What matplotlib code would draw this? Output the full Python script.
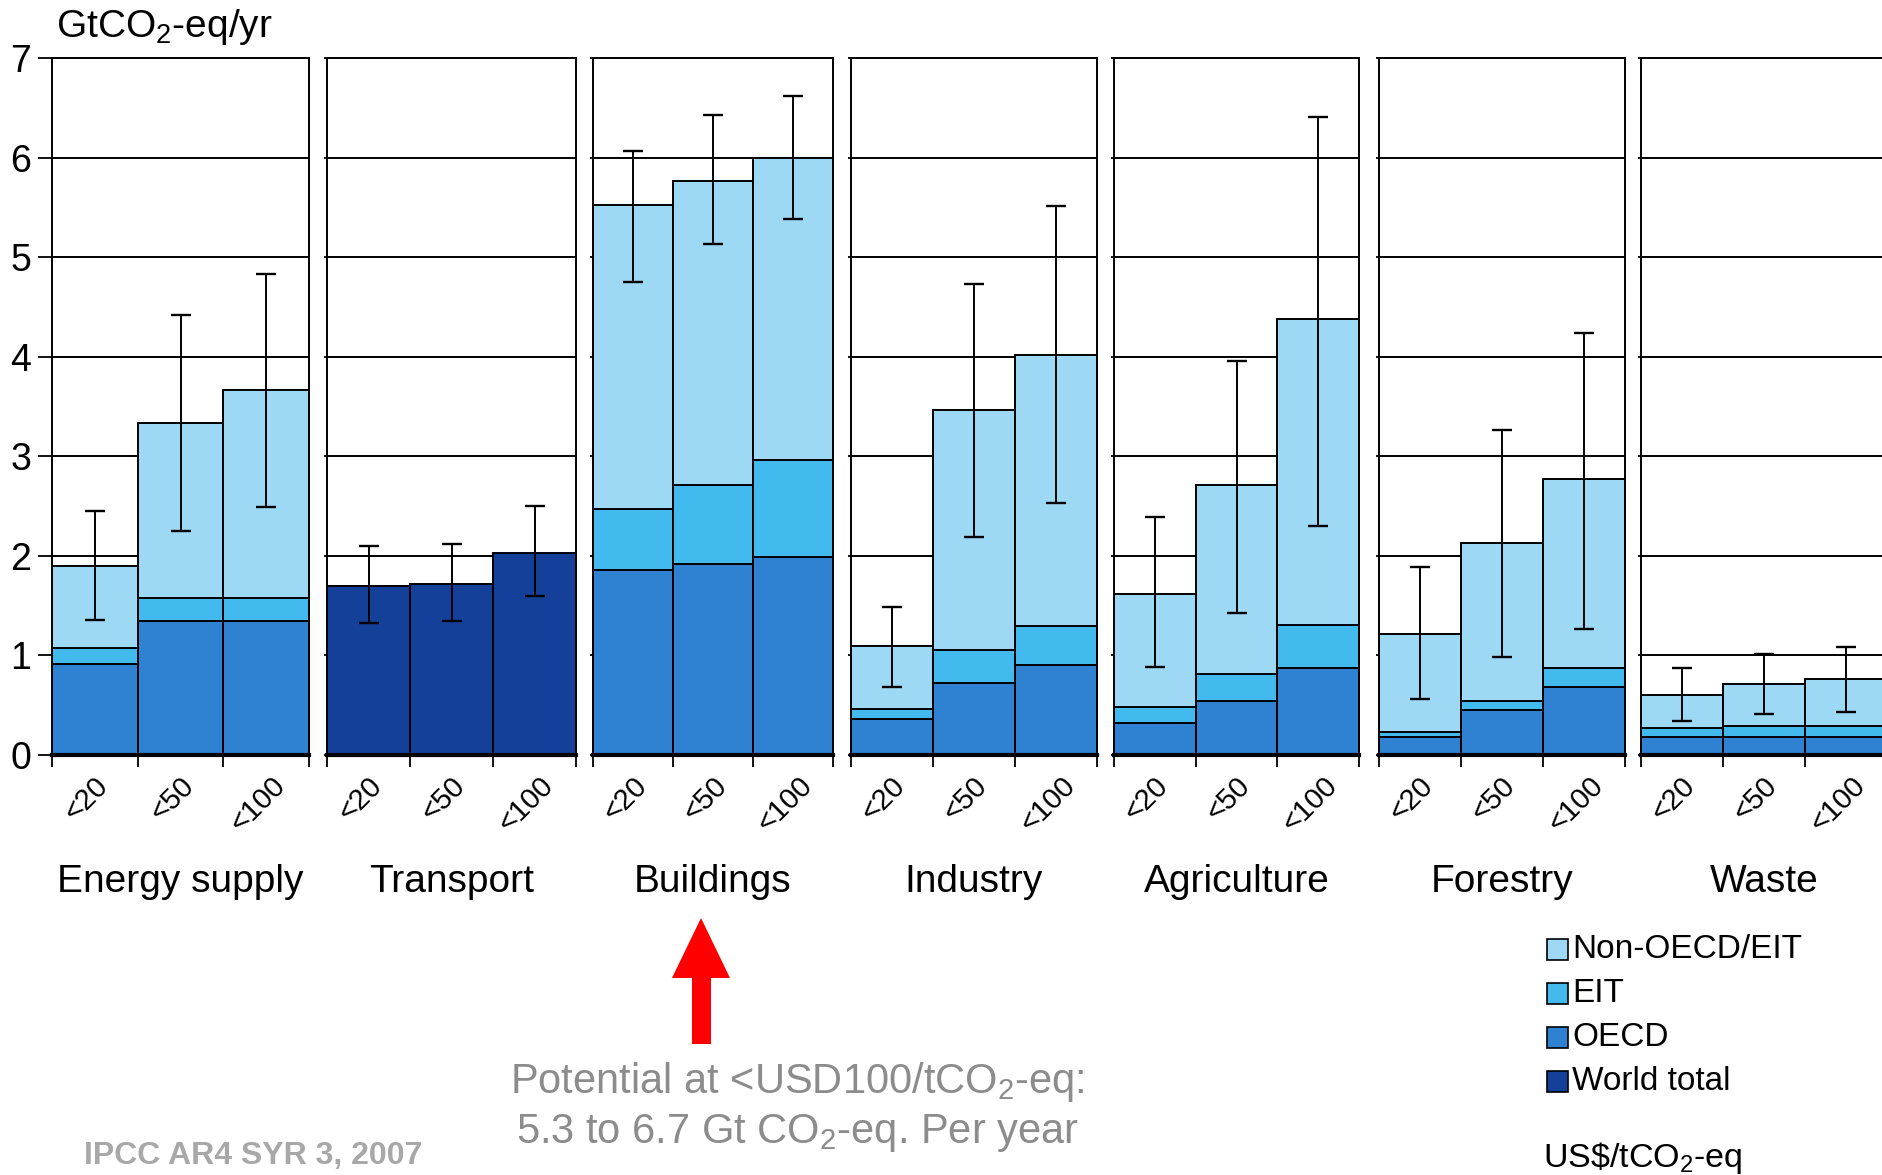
import matplotlib
matplotlib.use("Agg")
import matplotlib.pyplot as plt
from matplotlib.patches import Polygon, Rectangle
from matplotlib.transforms import blended_transform_factory

plt.rcParams["font.family"] = ["Liberation Sans", "DejaVu Sans"]
plt.rcParams["mathtext.fontset"] = "custom"
plt.rcParams["mathtext.rm"] = "Liberation Sans"
plt.rcParams["mathtext.it"] = "Liberation Sans:italic"
plt.rcParams["mathtext.bf"] = "Liberation Sans:bold"

# --- data: economic mitigation potential by sector, GtCO2-eq/yr ---
sectors = ["Energy supply", "Transport", "Buildings", "Industry",
           "Agriculture", "Forestry", "Waste"]
price_bins = ["<20", "<50", "<100"]

# regional split (None = only a world total is available)
oecd = [[0.91, 1.35, 1.35], None, [1.86, 1.92, 1.99], [0.36, 0.72, 0.90],
        [0.32, 0.54, 0.87], [0.18, 0.45, 0.68], [0.18, 0.18, 0.18]]
eit = [[0.16, 0.23, 0.23], None, [0.61, 0.79, 0.97], [0.10, 0.33, 0.40],
       [0.16, 0.27, 0.44], [0.05, 0.09, 0.19], [0.09, 0.11, 0.11]]
non_oecd = [[0.83, 1.75, 2.09], None, [3.05, 3.05, 3.04], [0.63, 2.41, 2.72],
            [1.14, 1.90, 3.07], [0.99, 1.59, 1.90], [0.33, 0.42, 0.47]]
world_total = [None, [1.70, 1.72, 2.03], None, None, None, None, None]

# uncertainty ranges (low, high)
range_low = [[1.36, 2.25, 2.49], [1.33, 1.35, 1.60], [4.75, 5.13, 5.38],
             [0.68, 2.19, 2.53], [0.88, 1.43, 2.30], [0.56, 0.98, 1.27],
             [0.34, 0.41, 0.43]]
range_high = [[2.45, 4.42, 4.83], [2.10, 2.12, 2.50], [6.07, 6.43, 6.62],
              [1.49, 4.73, 5.51], [2.39, 3.96, 6.41], [1.89, 3.26, 4.24],
              [0.87, 1.01, 1.08]]

legend_labels = ["Non-OECD/EIT", "EIT", "OECD", "World total"]

# --- styling ---
C_NON = "#9DD9F5"
C_EIT = "#43BAEE"
C_OECD = "#2E82D1"
C_WORLD = "#15409A"
W, H = 1882, 1175

# panel edges in pixels
panel_left = [52, 327, 593, 851, 1114, 1379, 1641]
panel_right = [309, 576, 833, 1097, 1359, 1625, 1887]
y_top_px, y_bot_px = 58, 755

fig = plt.figure(figsize=(W / 100, H / 100), dpi=100)

for i, name in enumerate(sectors):
    l, r = panel_left[i], panel_right[i]
    ax = fig.add_axes([l / W, 1 - y_bot_px / H, (r - l) / W, (y_bot_px - y_top_px) / H])
    ax.set_xlim(0, 3)
    ax.set_ylim(0, 7)
    ax.set_axisbelow(True)
    ax.yaxis.grid(True, color="black", linewidth=1.4)
    x = range(3)
    kw = dict(width=1, align="edge", edgecolor="black", linewidth=1.4)
    if world_total[i] is not None:
        ax.bar(x, world_total[i], color=C_WORLD, **kw)
    else:
        b1 = oecd[i]
        b2 = [a + b for a, b in zip(b1, eit[i])]
        ax.bar(x, oecd[i], color=C_OECD, **kw)
        ax.bar(x, eit[i], bottom=b1, color=C_EIT, **kw)
        ax.bar(x, non_oecd[i], bottom=b2, color=C_NON, **kw)
    centers = [k + 0.5 for k in x]
    mid = [(lo + hi) / 2 for lo, hi in zip(range_low[i], range_high[i])]
    err = [[m - lo for m, lo in zip(mid, range_low[i])],
           [hi - m for m, hi in zip(mid, range_high[i])]]
    ax.errorbar(centers, mid, yerr=err, fmt="none", ecolor="black",
                elinewidth=1.4, capsize=7, capthick=1.7, zorder=5)

    ax.set_yticks(range(8))
    ax.set_xticks([0, 1, 2, 3])
    ax.set_xticklabels([])
    ax.tick_params(axis="x", direction="out", length=8.5, width=1.3)
    if i == 0:
        ax.tick_params(axis="y", direction="out", length=10, width=1.3,
                       labelsize=27, pad=5)
    else:
        ax.tick_params(axis="y", direction="out", length=2.5, width=1.3,
                       labelleft=False)
    for s in ax.spines.values():
        s.set_linewidth(1.4)
    ax.spines["bottom"].set_linewidth(3)

    trans = blended_transform_factory(ax.transData, ax.transAxes)
    for c, lab in zip(centers, price_bins):
        ax.text(c - 0.1, -0.024, lab, rotation=45, ha="center", va="top",
                fontsize=21, transform=trans)
    ax.text(0.5, -0.182, name, ha="center", va="center", fontsize=28,
            transform=ax.transAxes)

# overlay in pixel coordinates for annotations and legend
ov = fig.add_axes([0, 0, 1, 1], zorder=-1)
ov.set_xlim(0, W)
ov.set_ylim(H, 0)
ov.axis("off")
ov.patch.set_alpha(0)

ov.text(56, 37, r"GtCO$_2$-eq/yr", fontsize=28, ha="left", va="baseline")

for k, (lab, col) in enumerate(zip(legend_labels, [C_NON, C_EIT, C_OECD, C_WORLD])):
    yc = 949 + k * 44
    ov.add_patch(Rectangle((1547, yc - 10.5), 21, 21, facecolor=col,
                           edgecolor="black", linewidth=1.2))
    ov.text(1572, yc, lab, fontsize=24, ha="left", va="center")
ov.text(1543, 1158, r"US\$/tCO$_2$-eq", fontsize=24.5, ha="left", va="center")

# red arrow pointing at the buildings sector
arrow = Polygon([(701, 918), (730, 978), (711, 978), (711, 1044),
                 (692, 1044), (692, 978), (672, 978)],
                closed=True, facecolor="#FF0000", edgecolor="none")
ov.add_patch(arrow)

ov.text(797, 1082, r"Potential at <USD100/tCO$_2$-eq:", fontsize=30,
        color="#8C8C8C", ha="center", va="center")
ov.text(797, 1133, r"5.3 to 6.7 Gt CO$_2$-eq. Per year", fontsize=30,
        color="#8C8C8C", ha="center", va="center")
ov.text(84, 1156, "IPCC AR4 SYR 3, 2007", fontsize=23, fontweight="bold",
        color="#A8A8A8", ha="left", va="center")

fig.savefig("out.png", dpi=100)
